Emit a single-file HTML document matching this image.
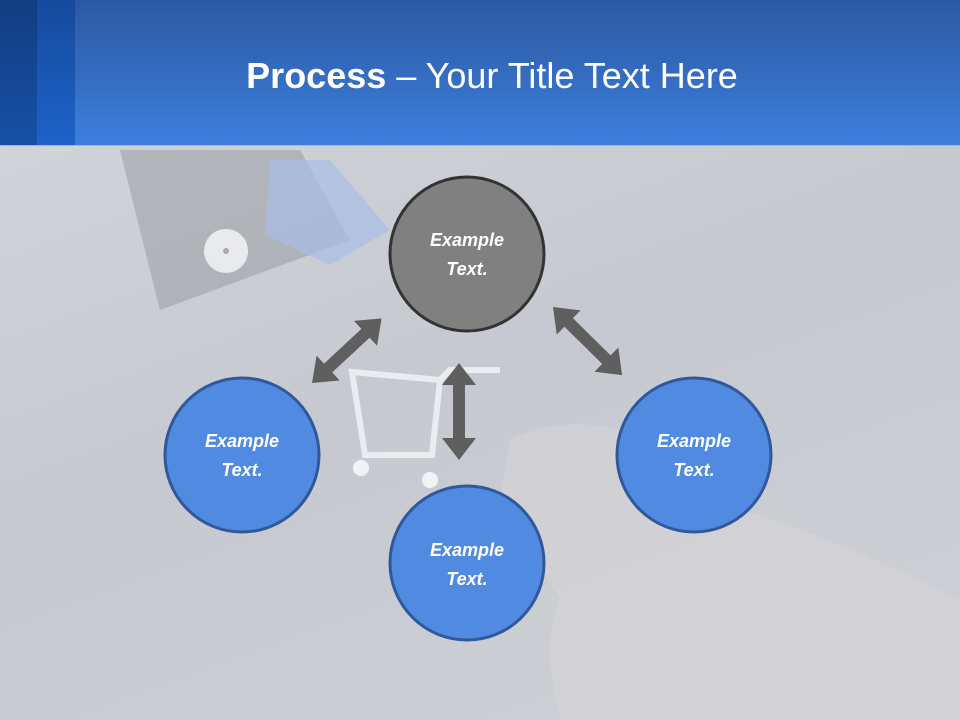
<!DOCTYPE html>
<html><head><meta charset="utf-8"><style>
html,body{margin:0;padding:0}
body{width:960px;height:720px;position:relative;overflow:hidden;font-family:"Liberation Sans",sans-serif;background:linear-gradient(160deg,#d3d6db 0%,#c6cad0 50%,#cdd0d5 100%)}
.hdr{position:absolute;left:0;top:0;width:960px;height:145px;background:linear-gradient(#2b58a2,#3d7fdd);border-bottom:1px solid #9fb5d6}
.s1{position:absolute;left:0;top:0;width:37px;height:145px;background:linear-gradient(#123d82,#1650a6)}
.s2{position:absolute;left:37px;top:0;width:38px;height:145px;background:linear-gradient(#154a9c,#1d63c9)}
.title{position:absolute;left:0;width:984px;top:55px;text-align:center;color:#fff;font-size:36px}
</style></head><body>
<div class="hdr"><div class="s1"></div><div class="s2"></div><div class="title"><b>Process</b> – Your Title Text Here</div></div>
<svg width="960" height="720" style="position:absolute;left:0;top:0">
<polygon points="120,150 300,150 350,240 160,310" fill="#7d8088" opacity="0.35"/>
<polygon points="270,160 330,160 390,230 330,265 265,235" fill="#a9bde6" opacity="0.7"/>
<circle cx="226" cy="251" r="22" fill="#e8eaee"/>
<circle cx="226" cy="251" r="3" fill="#aaa"/>
<path d="M510,440 Q560,415 620,430 L700,500 Q800,520 960,600 L960,720 L560,720 Q540,640 560,600 L500,500 Z" fill="#d9d6d8" opacity="0.5"/>
<g stroke="#eef0f3" stroke-width="6" fill="none" opacity="0.9">
<path d="M352,372 L440,380 L432,455 L365,455 Z"/>
<path d="M440,380 L450,370 L500,370"/>
</g>
<circle cx="361" cy="468" r="8" fill="#f2f3f5"/>
<circle cx="430" cy="480" r="8" fill="#f2f3f5"/>
<g fill="#5f5f5f">
<polygon transform="translate(312,383) rotate(-42.9)" points="0,0 22,-17 22,-6 73,-6 73,-17 95,0 73,17 73,6 22,6 22,17"/>
<polygon transform="translate(553,307) rotate(44.6)" points="0,0 22,-17 22,-6 75,-6 75,-17 97,0 75,17 75,6 22,6 22,17"/>
<polygon transform="translate(459,363) rotate(90)" points="0,0 22,-17 22,-6 75,-6 75,-17 97,0 75,17 75,6 22,6 22,17"/>
</g>
<circle cx="467" cy="254" r="77" fill="#808080" stroke="#333" stroke-width="3"/>
<circle cx="242" cy="455" r="77" fill="#518be1" stroke="#30589a" stroke-width="3"/>
<circle cx="467" cy="563" r="77" fill="#518be1" stroke="#30589a" stroke-width="3"/>
<circle cx="694" cy="455" r="77" fill="#518be1" stroke="#30589a" stroke-width="3"/>
<g fill="#fff" font-family="Liberation Sans, sans-serif" font-size="18" font-weight="bold" font-style="italic" text-anchor="middle">
<text x="467" y="246">Example</text><text x="467" y="275">Text.</text>
<text x="242" y="447">Example</text><text x="242" y="476">Text.</text>
<text x="467" y="556">Example</text><text x="467" y="585">Text.</text>
<text x="694" y="447">Example</text><text x="694" y="476">Text.</text>
</g>
</svg>
</body></html>
